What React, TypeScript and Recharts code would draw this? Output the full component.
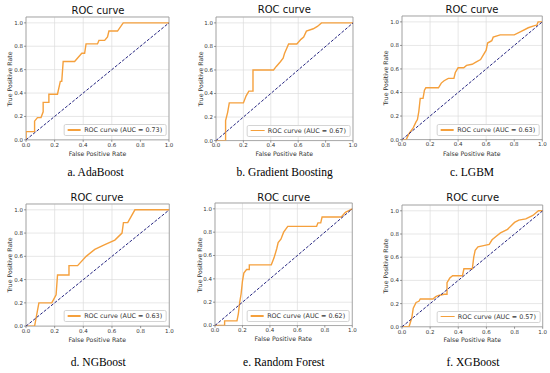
import React from "react";
import {
  LineChart,
  Line,
  XAxis,
  YAxis,
  CartesianGrid,
  ReferenceArea,
} from "recharts";

// axis ticks shared by all six panels
const ticks = [0, 0.2, 0.4, 0.6, 0.8, 1.0];
const chance = [0, 1];

// a. AdaBoost
const adaFpr = [0, 0, 0.06, 0.06, 0.08, 0.105, 0.12, 0.12, 0.16, 0.16, 0.22, 0.24, 0.25, 0.26, 0.34, 0.39, 0.41, 0.42, 0.5, 0.51, 0.55, 0.57, 0.58, 0.64, 0.68, 1.0];
const adaTpr = [0, 0.07, 0.07, 0.16, 0.19, 0.19, 0.24, 0.32, 0.32, 0.39, 0.39, 0.5, 0.5, 0.67, 0.67, 0.74, 0.74, 0.82, 0.82, 0.85, 0.85, 0.88, 0.93, 0.93, 1.0, 1.0];

// b. Gradient Boosting
const gbFpr = [0, 0.07, 0.07, 0.085, 0.097, 0.2, 0.22, 0.24, 0.27, 0.27, 0.42, 0.44, 0.47, 0.49, 0.5, 0.53, 0.59, 0.62, 0.64, 0.66, 0.71, 0.74, 0.77, 1.0];
const gbTpr = [0, 0, 0.17, 0.24, 0.32, 0.32, 0.38, 0.42, 0.42, 0.6, 0.6, 0.63, 0.67, 0.7, 0.74, 0.82, 0.82, 0.86, 0.88, 0.93, 0.95, 0.97, 1.0, 1.0];

// c. LGBM
const lgbmFpr = [0, 0.03, 0.05, 0.08, 0.1, 0.11, 0.12, 0.13, 0.15, 0.16, 0.17, 0.26, 0.28, 0.3, 0.33, 0.37, 0.38, 0.4, 0.44, 0.46, 0.5, 0.53, 0.56, 0.58, 0.6, 0.61, 0.64, 0.65, 0.7, 0.8, 0.85, 0.9, 0.95, 0.96, 0.97, 1.0];
const lgbmTpr = [0, 0, 0.05, 0.1, 0.15, 0.17, 0.24, 0.35, 0.35, 0.42, 0.44, 0.44, 0.48, 0.5, 0.52, 0.52, 0.57, 0.61, 0.61, 0.63, 0.64, 0.66, 0.68, 0.72, 0.76, 0.82, 0.84, 0.87, 0.89, 0.89, 0.92, 0.95, 0.97, 0.97, 1.0, 1.0];

// d. NGBoost
const ngbFpr = [0, 0.06, 0.09, 0.18, 0.21, 0.22, 0.3, 0.3, 0.36, 0.42, 0.48, 0.55, 0.62, 0.67, 0.68, 0.71, 0.76, 1.0];
const ngbTpr = [0, 0, 0.2, 0.2, 0.27, 0.44, 0.44, 0.52, 0.52, 0.6, 0.66, 0.7, 0.74, 0.8, 0.89, 0.89, 1.0, 1.0];

// e. Random Forest
const rfFpr = [0, 0.07, 0.07, 0.16, 0.17, 0.18, 0.19, 0.2, 0.21, 0.23, 0.25, 0.25, 0.41, 0.43, 0.44, 0.45, 0.46, 0.48, 0.5, 0.53, 0.74, 0.75, 0.77, 0.78, 0.92, 0.95, 1.0];
const rfTpr = [0, 0, 0.04, 0.04, 0.1, 0.2, 0.27, 0.38, 0.45, 0.48, 0.48, 0.52, 0.52, 0.58, 0.62, 0.66, 0.71, 0.74, 0.8, 0.85, 0.85, 0.88, 0.88, 0.93, 0.93, 0.97, 1.0];

// f. XGBoost
const xgbFpr = [0, 0.05, 0.07, 0.08, 0.1, 0.12, 0.13, 0.22, 0.24, 0.26, 0.3, 0.32, 0.32, 0.34, 0.36, 0.43, 0.44, 0.5, 0.51, 0.52, 0.54, 0.58, 0.62, 0.64, 0.67, 0.7, 0.75, 0.8, 0.83, 0.88, 0.93, 0.97, 1.0];
const xgbTpr = [0, 0, 0.08, 0.16, 0.21, 0.22, 0.24, 0.24, 0.26, 0.27, 0.28, 0.28, 0.38, 0.42, 0.44, 0.44, 0.5, 0.5, 0.6, 0.66, 0.69, 0.7, 0.71, 0.75, 0.78, 0.81, 0.84, 0.9, 0.92, 0.93, 0.96, 1.0, 1.0];

const captions = ["a. AdaBoost", "b. Gradient Boosting", "c. LGBM", "d. NGBoost", "e. Random Forest", "f. XGBoost"];
const aucs = ["0.73", "0.67", "0.63", "0.63", "0.62", "0.57"];
const fprs = [adaFpr, gbFpr, lgbmFpr, ngbFpr, rfFpr, xgbFpr];
const tprs = [adaTpr, gbTpr, lgbmTpr, ngbTpr, rfTpr, xgbTpr];

// where each panel sits on the page (plot edges in px)
const layout = [
  { left: 26, right: 169, zero: 140, one: 23, titleX: 98, titleY: 10.7, capX: 95.5, capY: 173.3, ylabX: 10, xlabY: 154.3 },
  { left: 215.7, right: 352.7, zero: 140.7, one: 23, titleX: 284.3, titleY: 10, capX: 284.7, capY: 173, ylabX: 200.7, xlabY: 154.3 },
  { left: 401.7, right: 542, zero: 140, one: 22.3, titleX: 472, titleY: 10, capX: 472, capY: 173, ylabX: 385.7, xlabY: 154 },
  { left: 25.7, right: 169, zero: 326, one: 209.7, titleX: 97, titleY: 197.7, capX: 98.3, capY: 362.7, ylabX: 10, xlabY: 340 },
  { left: 214.7, right: 352, zero: 326, one: 209.3, titleX: 283.7, titleY: 197.7, capX: 283.8, capY: 362.7, ylabX: 200, xlabY: 339.3 },
  { left: 402, right: 542.7, zero: 326.7, one: 210.7, titleX: 472.7, titleY: 198.3, capX: 473, capY: 362.7, ylabX: 385.7, xlabY: 340 },
];

const ORANGE = "#f5a03c";
const NAVY = "#23237e";
const SANS = "'DejaVu Sans', sans-serif";

const centered: React.CSSProperties = {
  position: "absolute",
  transform: "translate(-50%, -50%)",
  whiteSpace: "nowrap",
  lineHeight: 1,
};

function RocPanel({ idx }: { idx: number }) {
  const p = layout[idx];
  const plotW = p.right - p.left;
  const plotH = (p.zero - p.one) * 1.05;
  const plotTop = p.zero - plotH;
  const data = fprs[idx].map((x, i) => ({ fpr: x, tpr: tprs[idx][i] }));
  const diag = chance.map((v) => ({ fpr: v, tpr: v }));
  const tickStyle = { fontSize: 5.5, fill: "#333", fontFamily: SANS };

  return (
    <>
      <div style={{ position: "absolute", left: p.left - 30, top: plotTop - 5 }}>
        <LineChart
          width={plotW + 35}
          height={plotH + 20}
          margin={{ top: 5, right: 5, left: 0, bottom: 0 }}
        >
          <CartesianGrid stroke="#dcdcdc" strokeWidth={0.7} />
          <XAxis
            type="number"
            dataKey="fpr"
            domain={[0, 1]}
            ticks={ticks}
            allowDataOverflow
            height={15}
            tick={tickStyle}
            tickSize={2}
            tickMargin={1}
            axisLine={false}
            tickLine={{ stroke: "#555", strokeWidth: 0.6 }}
            tickFormatter={(v: number) => v.toFixed(1)}
          />
          <YAxis
            type="number"
            domain={[0, 1.05]}
            ticks={ticks}
            allowDataOverflow
            width={30}
            tick={tickStyle}
            tickSize={2}
            tickMargin={1}
            axisLine={false}
            tickLine={{ stroke: "#555", strokeWidth: 0.6 }}
            tickFormatter={(v: number) => v.toFixed(1)}
          />
          <ReferenceArea x1={0} x2={1} y1={0} y2={1.05} fill="none" stroke="#9a9a9a" strokeWidth={0.8} />
          <Line
            data={data}
            dataKey="tpr"
            type="linear"
            stroke={ORANGE}
            strokeWidth={1.4}
            dot={false}
            isAnimationActive={false}
          />
          <Line
            data={diag}
            dataKey="tpr"
            type="linear"
            stroke={NAVY}
            strokeWidth={1}
            strokeDasharray="3 1.6"
            dot={false}
            isAnimationActive={false}
          />
        </LineChart>
      </div>

      <div style={{ ...centered, left: p.titleX, top: p.titleY, fontFamily: SANS, fontSize: 10, color: "#111" }}>
        ROC curve
      </div>
      <div style={{ ...centered, left: (p.left + p.right) / 2, top: p.xlabY, fontFamily: SANS, fontSize: 6.2, color: "#333" }}>
        False Positive Rate
      </div>
      <div
        style={{
          ...centered,
          left: p.ylabX,
          top: (p.zero + plotTop) / 2,
          transform: "translate(-50%, -50%) rotate(-90deg)",
          fontFamily: SANS,
          fontSize: 6.2,
          color: "#333",
        }}
      >
        True Positive Rate
      </div>

      <div
        style={{
          position: "absolute",
          left: p.right - 2.3,
          top: p.zero - 4,
          transform: "translate(-100%, -100%)",
          height: 12,
          boxSizing: "border-box",
          display: "flex",
          alignItems: "center",
          padding: "0 3.5px 0 3px",
          border: "0.8px solid #d4d4d4",
          borderRadius: 2,
          background: "rgba(255,255,255,0.85)",
          whiteSpace: "nowrap",
          fontFamily: SANS,
          fontSize: 6.4,
          color: "#333",
        }}
      >
        <span style={{ display: "inline-block", width: 13.4, height: 1.4, background: ORANGE, marginRight: 3.4 }} />
        ROC curve (AUC = {aucs[idx]})
      </div>

      <div style={{ ...centered, left: p.capX, top: p.capY, fontFamily: "'Liberation Serif', 'Times New Roman', serif", fontSize: 11.5, color: "#000" }}>
        {captions[idx]}
      </div>
    </>
  );
}

export default function App() {
  return (
    <div style={{ position: "relative", width: 550, height: 373, background: "#fff", overflow: "hidden" }}>
      <style>{"body{margin:0}"}</style>
      {layout.map((_, i) => (
        <RocPanel key={i} idx={i} />
      ))}
    </div>
  );
}
